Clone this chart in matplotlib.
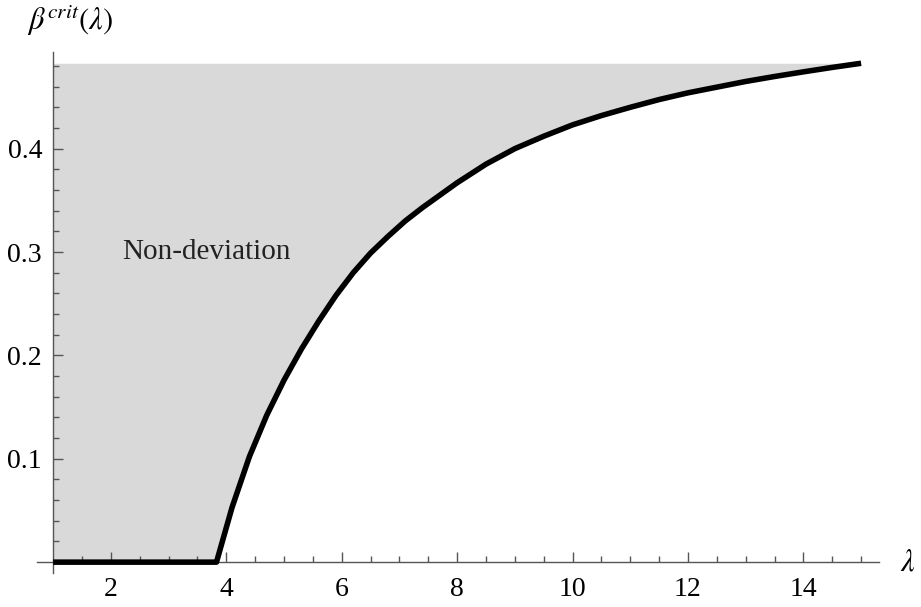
import matplotlib
matplotlib.use('Agg')
import matplotlib.pyplot as plt
from matplotlib.ticker import FixedLocator

plt.rcParams['font.family'] = ['Liberation Serif', 'DejaVu Serif']
plt.rcParams['mathtext.fontset'] = 'stix'

# critical beta
lam = [1.0, 3.83, 4.1, 4.4, 4.7, 5.0, 5.3, 5.6, 5.9, 6.2, 6.5, 6.8, 7.1,
       7.4, 7.7, 8.0, 8.5, 9.0, 9.5, 10.0, 10.5, 11.0, 11.5, 12.0, 12.5,
       13.0, 13.5, 14.0, 14.5, 15.0]
beta = [0.0, 0.0, 0.053, 0.102, 0.142, 0.176, 0.206, 0.233, 0.258, 0.280,
        0.299, 0.315, 0.330, 0.343, 0.355, 0.367, 0.385, 0.400, 0.412, 0.423,
        0.432, 0.440, 0.4475, 0.454, 0.4595, 0.465, 0.4698, 0.4743, 0.4786,
        0.4826]
beta_top = 0.4826

xticks = [2, 4, 6, 8, 10, 12, 14]
yticks = [0.1, 0.2, 0.3, 0.4]
region_label = 'Non-deviation'

W, H = 921, 607
fig = plt.figure(figsize=(W / 100, H / 100), dpi=100)
ax = fig.add_axes([37 / W, 34 / H, (879 - 37) / W, (573 - 52) / H])
ax.set_xlim(0.72, 15.31)
ax.set_ylim(-0.0105, 0.4935)

ax.fill_between(lam, beta, beta_top, color='#d9d9d9', lw=0, zorder=1)
ax.plot(lam, beta, color='black', lw=4.0, solid_capstyle='butt',
        solid_joinstyle='round', zorder=3)

ax.text(3.65, 0.3, region_label, fontsize=21, color='#222222',
        ha='center', va='center')

for s in ['top', 'right']:
    ax.spines[s].set_visible(False)
ax.spines['left'].set_position(('data', 1.0))
ax.spines['bottom'].set_position(('data', 0.0))
for s in ['left', 'bottom']:
    ax.spines[s].set_color('#555555')
    ax.spines[s].set_linewidth(1.0)
    ax.spines[s].set_zorder(2)

ax.xaxis.set_major_locator(FixedLocator(xticks))
ax.xaxis.set_minor_locator(FixedLocator([v / 2 for v in range(3, 31)
                                         if v % 4 != 0]))
ax.yaxis.set_major_locator(FixedLocator(yticks))
ax.yaxis.set_minor_locator(FixedLocator([0.02 * i for i in range(1, 25)
                                         if i % 5 != 0]))
ax.set_xticklabels([str(t) for t in xticks])
ax.set_yticklabels([str(t) for t in yticks])

ax.tick_params(axis='both', which='both', direction='in', color='#555555',
               labelsize=20, width=1.0)
ax.tick_params(axis='x', which='major', length=7, pad=11)
ax.tick_params(axis='x', which='minor', length=4)
ax.tick_params(axis='y', which='major', length=7, pad=8)
ax.tick_params(axis='y', which='minor', length=4)

fig.text(27 / W, 1 - 20 / H, r'$\beta^{crit}(\lambda)$', fontsize=22,
         ha='left', va='center')
fig.text(900 / W, 1 - 563 / H, r'$\lambda$', fontsize=22,
         ha='left', va='center')

fig.savefig('out.png', dpi=100)
